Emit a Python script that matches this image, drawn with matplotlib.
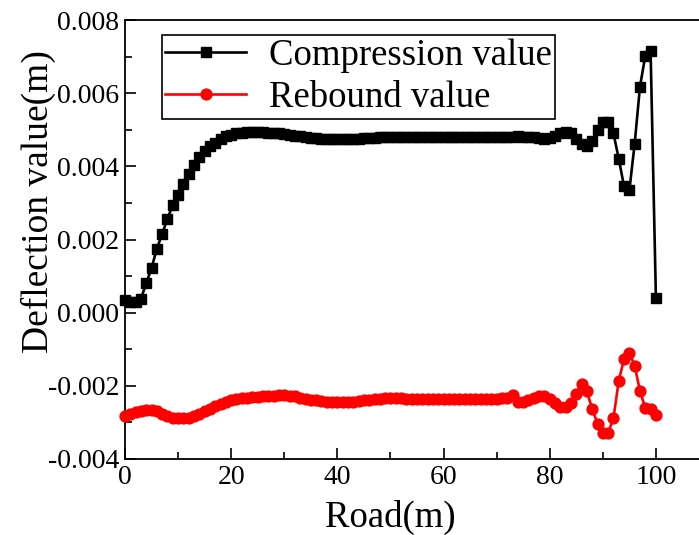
import numpy as np
import matplotlib
matplotlib.use("Agg")
import matplotlib.pyplot as plt
from matplotlib.ticker import MultipleLocator, FixedLocator, FuncFormatter

road = list(range(0, 101))

compression = [
    0.00035, 0.00030, 0.00030, 0.00038, 0.00080, 0.00122, 0.00175, 0.00215, 0.00257, 0.00294,
    0.00323, 0.00352, 0.00378, 0.00405, 0.00425, 0.00442, 0.00455, 0.00465, 0.00475, 0.00482,
    0.00487, 0.00490, 0.00492, 0.00493, 0.00494, 0.00494, 0.00493, 0.00492, 0.00491, 0.00490,
    0.00488, 0.00486, 0.00484, 0.00482, 0.00480, 0.00478, 0.00477, 0.00476, 0.00475, 0.00475,
    0.00475, 0.00475, 0.00475, 0.00476, 0.00476, 0.00477, 0.00478, 0.00478, 0.00479, 0.00480,
    0.00481, 0.00481, 0.00481, 0.00481, 0.00480, 0.00480, 0.00480, 0.00480, 0.00480, 0.00480,
    0.00480, 0.00480, 0.00480, 0.00480, 0.00480, 0.00480, 0.00480, 0.00480, 0.00480, 0.00480,
    0.00480, 0.00480, 0.00480, 0.00479, 0.00482, 0.00481, 0.00480, 0.00479, 0.00477, 0.00476,
    0.00478, 0.00484, 0.00490, 0.00494, 0.00490, 0.00475, 0.00460, 0.00455, 0.00468, 0.00500,
    0.00521, 0.00522, 0.00490, 0.00421, 0.00345, 0.00334, 0.00462, 0.00618, 0.00702, 0.00715,
    0.00040,
]

rebound = [
    -0.00282, -0.00278, -0.00272, -0.00268, -0.00266, -0.00267, -0.00270, -0.00276, -0.00282, -0.00287,
    -0.00289, -0.00289, -0.00287, -0.00283, -0.00277, -0.00270, -0.00262, -0.00255, -0.00249, -0.00244,
    -0.00240, -0.00237, -0.00234, -0.00232, -0.00231, -0.00230, -0.00229, -0.00228, -0.00227, -0.00226,
    -0.00226, -0.00227, -0.00229, -0.00232, -0.00235, -0.00238, -0.00240, -0.00242, -0.00243, -0.00244,
    -0.00244, -0.00244, -0.00244, -0.00243, -0.00242, -0.00240, -0.00238, -0.00236, -0.00235, -0.00234,
    -0.00233, -0.00234, -0.00234, -0.00235, -0.00235, -0.00235, -0.00235, -0.00235, -0.00235, -0.00235,
    -0.00235, -0.00235, -0.00235, -0.00235, -0.00235, -0.00235, -0.00235, -0.00235, -0.00235, -0.00235,
    -0.00235, -0.00234, -0.00233, -0.00226, -0.00245, -0.00243, -0.00238, -0.00233, -0.00228, -0.00228,
    -0.00235, -0.00248, -0.00258, -0.00257, -0.00248, -0.00223, -0.00194, -0.00214, -0.00264, -0.00303,
    -0.00328, -0.00328, -0.00289, -0.00186, -0.00127, -0.00109, -0.00145, -0.00214, -0.00261, -0.00264,
    -0.00279,
]

series_labels = ["Compression value", "Rebound value"]
x_label = "Road(m)"
y_label = "Deflection value(m)"

plt.rcParams["font.family"] = ["Liberation Serif", "DejaVu Serif"]
plt.rcParams["axes.unicode_minus"] = False

W, H = 699, 535
fig = plt.figure(figsize=(W / 100, H / 100), dpi=100)
left_px, right_px, top_px, bottom_px = 125, 709, 20, 459
ax = fig.add_axes([left_px / W, 1 - bottom_px / H, (right_px - left_px) / W, (bottom_px - top_px) / H])

ax.plot(road, compression, color="black", lw=1.9, marker="s", ms=7.2,
        label=series_labels[0], clip_on=False, zorder=3)
ax.plot(road, rebound, color="#ff0000", lw=1.9, marker="o", ms=7.8,
        label=series_labels[1], clip_on=False, zorder=3)

ax.set_xlim(0, 110)
ax.set_ylim(-0.004, 0.008)
ax.xaxis.set_major_locator(FixedLocator([0, 20, 40, 60, 80, 100]))
ax.xaxis.set_minor_locator(FixedLocator([10, 30, 50, 70, 90]))
ax.yaxis.set_major_locator(MultipleLocator(0.002))
ax.yaxis.set_minor_locator(MultipleLocator(0.001))
ax.yaxis.set_major_formatter(FuncFormatter(lambda v, p: f"{v:.3f}"))

ax.tick_params(which="both", direction="in", top=False, right=False, width=1.2, labelsize=20)
ax.tick_params(which="major", length=8, pad=4)
ax.tick_params(which="minor", length=5)
for s in ax.spines.values():
    s.set_linewidth(1.3)
ax.spines["right"].set_visible(False)

ax.set_xlabel(x_label, fontsize=26.5, va="center", ha="center")
ax.xaxis.set_label_coords((390 - left_px) / (right_px - left_px), (bottom_px - 517) / (bottom_px - top_px))
ax.set_ylabel(y_label, fontsize=27, va="center", ha="center")
ax.yaxis.set_label_coords((38 - left_px) / (right_px - left_px), (bottom_px - 202) / (bottom_px - top_px))

leg = ax.legend(loc="upper left", bbox_to_anchor=(0.063, 0.966), fontsize=26.5,
                frameon=True, fancybox=False, edgecolor="black", framealpha=1,
                handlelength=2.2, handletextpad=0.6, borderpad=0.1,
                labelspacing=0.2, borderaxespad=0)
leg.get_frame().set_linewidth(1.2)

fig.savefig("out.png", dpi=100)
